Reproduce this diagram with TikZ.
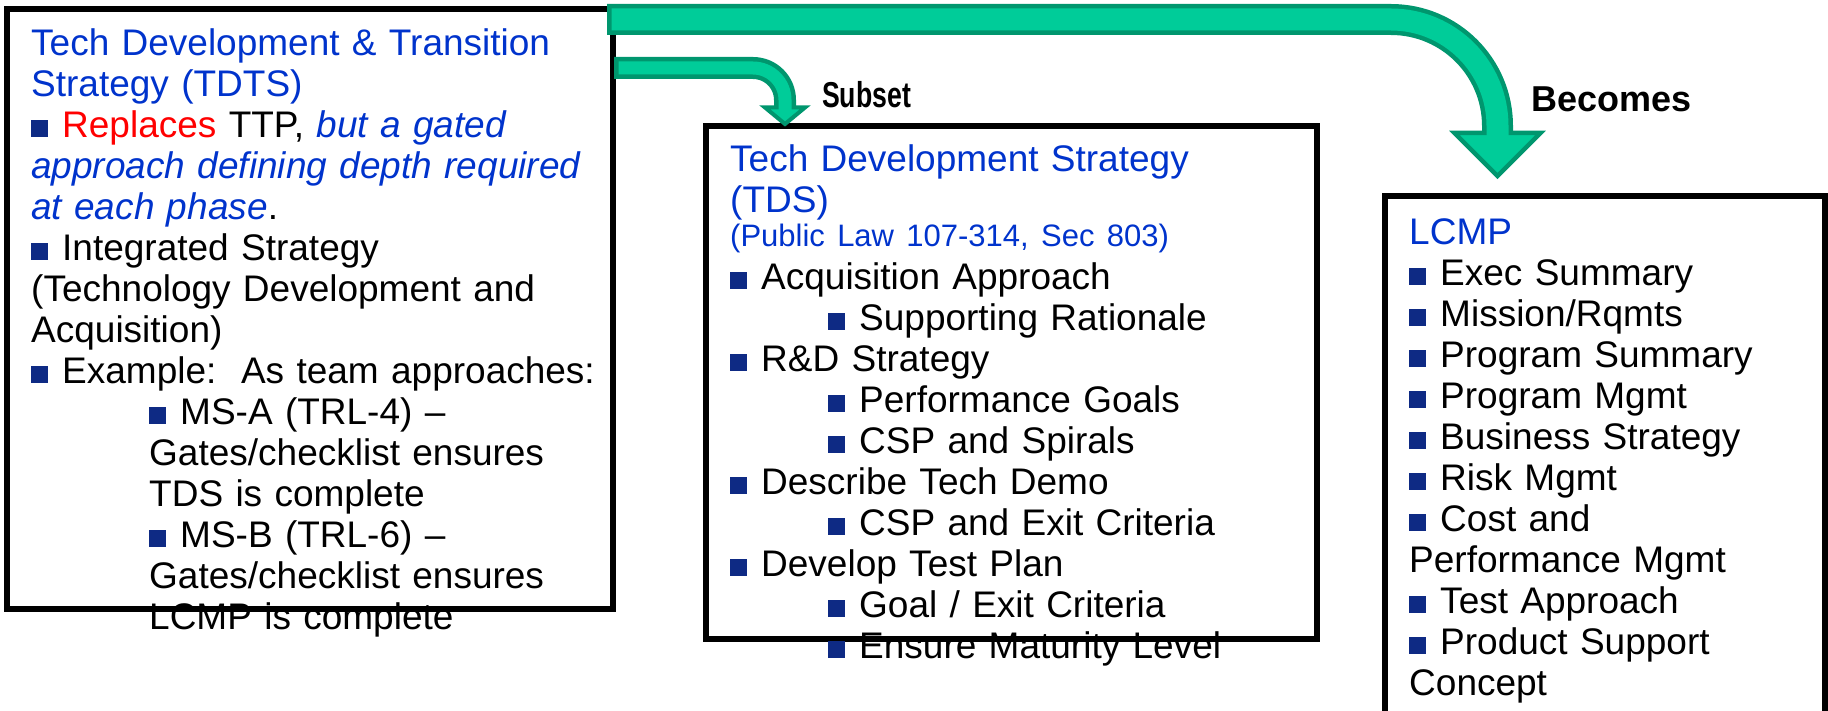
\documentclass[tikz,border=0pt]{standalone}
\usepackage{fontspec}
\setmainfont{Liberation Sans}
\usetikzlibrary{positioning}
\definecolor{titleblue}{RGB}{0,51,204}
\definecolor{bulletnavy}{RGB}{14,42,132}
\definecolor{arrowfill}{RGB}{0,204,153}
\definecolor{arrowline}{RGB}{0,150,110}
\newcommand{\sqb}{\textcolor{bulletnavy}{\rule{17pt}{17pt}}\hspace{14pt}}
\newcommand{\subin}[1]{\hspace*{#1}}
\newcommand{\firstline}{\rule{0pt}{30pt}}

\begin{document}
\begin{tikzpicture}
	[x=1pt,y=-1pt,
	box/.style={draw,line width=6pt,outer sep=0pt,inner sep=0pt,anchor=north west},
	body/.style={anchor=north west,inner sep=0pt,align=left,text width=#1,font=\fontsize{37}{41}\selectfont},
	lbl/.style={anchor=base west,inner sep=0pt,font=\bfseries\fontsize{36}{40}\selectfont},
	shaftout/.style={draw=arrowline,line cap=butt},
	shaftin/.style={draw=arrowfill,line cap=butt},
	headtip/.style={fill=arrowfill,draw=arrowline,line width=4.5pt,line join=miter}]
	\clip (0,0) rectangle (1828,711);

	% the three boxes
	\node[box,minimum width=606pt,minimum height=600pt] (tdts) at (7,9) {};
	\node[box,minimum width=611pt,minimum height=513pt] (tds) at (706,126) {};
	\node[box,minimum width=440pt,minimum height=600pt] (lcmp) at (1385,196) {};

	\node[body=585pt] (tdts text) at ([shift={(24,16)}]tdts.north west) {%
		\firstline\textcolor{titleblue}{Tech Development \& Transition}\\
		\textcolor{titleblue}{Strategy (TDTS)}\\
		\sqb\textcolor{red}{Replaces} TTP, \textcolor{titleblue}{\itshape but a gated}\\
		\textcolor{titleblue}{\itshape approach defining depth required}\\
		\textcolor{titleblue}{\itshape at each phase}.\\
		\sqb Integrated Strategy\\
		(Technology Development and\\
		Acquisition)\\
		\sqb Example:\ \ As team approaches:\\
		\subin{118pt}\sqb MS-A (TRL-4) --\\
		\subin{118pt}Gates/checklist ensures\\
		\subin{118pt}TDS is complete\\
		\subin{118pt}\sqb MS-B (TRL-6) --\\
		\subin{118pt}Gates/checklist ensures\\
		\subin{118pt}LCMP is complete};

	\node[body=585pt] (tds text) at ([shift={(24,15)}]tds.north west) {%
		\firstline\textcolor{titleblue}{Tech Development Strategy}\\
		\textcolor{titleblue}{(TDS)}\\[-7pt]
		{\fontsize{31}{34}\selectfont\textcolor{titleblue}{(Public Law 107-314, Sec 803)}}\\[2pt]
		\sqb Acquisition Approach\\
		\subin{98pt}\sqb Supporting Rationale\\
		\sqb R\&D Strategy\\
		\subin{98pt}\sqb Performance Goals\\
		\subin{98pt}\sqb CSP and Spirals\\
		\sqb Describe Tech Demo\\
		\subin{98pt}\sqb CSP and Exit Criteria\\
		\sqb Develop Test Plan\\
		\subin{98pt}\sqb Goal / Exit Criteria\\
		\subin{98pt}\sqb Ensure Maturity Level};

	\node[body=410pt] (lcmp text) at ([shift={(24,18)}]lcmp.north west) {%
		\firstline\textcolor{titleblue}{LCMP}\\
		\sqb Exec Summary\\
		\sqb Mission/Rqmts\\
		\sqb Program Summary\\
		\sqb Program Mgmt\\
		\sqb Business Strategy\\
		\sqb Risk Mgmt\\
		\sqb Cost and\\
		Performance Mgmt\\
		\sqb Test Approach\\
		\sqb Product Support\\
		Concept};

	\node[lbl] (subset) at ([shift={(116,-18)}]tds.north west) {\scalebox{0.74}[1]{Subset}};
	\node[lbl] (becomes) at ([shift={(146,-84)}]lcmp.north west) {Becomes};

	% fat arrow: TDTS becomes LCMP
	\coordinate (big from) at ([shift={(-6,10.5)}]tdts.north east);
	\coordinate (big tip) at ([shift={(112.5,-20)}]lcmp.north west);
	\coordinate (big base) at ([shift={(0,-45)}]big tip);
	\draw[shaftout,line width=31pt,rounded corners=106.5pt] (big from) -| (big base);
	\filldraw[headtip] ([shift={(-43,2)}]big base) -- ([shift={(43,2)}]big base) -- (big tip) -- cycle;
	\draw[shaftin,line width=22pt,rounded corners=106.5pt] ([shift={(4.5,0)}]big from) -| ([shift={(0,6)}]big base);

	% fat arrow: TDS is a subset of TDTS
	\coordinate (small from) at ([shift={(1,59)}]tdts.north east);
	\coordinate (small tip) at ([shift={(79,-2)}]tds.north west);
	\coordinate (small base) at ([shift={(0,-18)}]small tip);
	\draw[shaftout,line width=22pt,rounded corners=32pt] (small from) -| (small base);
	\filldraw[headtip,line width=4pt] ([shift={(-20,1.5)}]small base) -- ([shift={(20,1.5)}]small base) -- (small tip) -- cycle;
	\draw[shaftin,line width=13pt,rounded corners=32pt] ([shift={(4.5,0)}]small from) -| ([shift={(0,5)}]small base);
\end{tikzpicture}
\end{document}
